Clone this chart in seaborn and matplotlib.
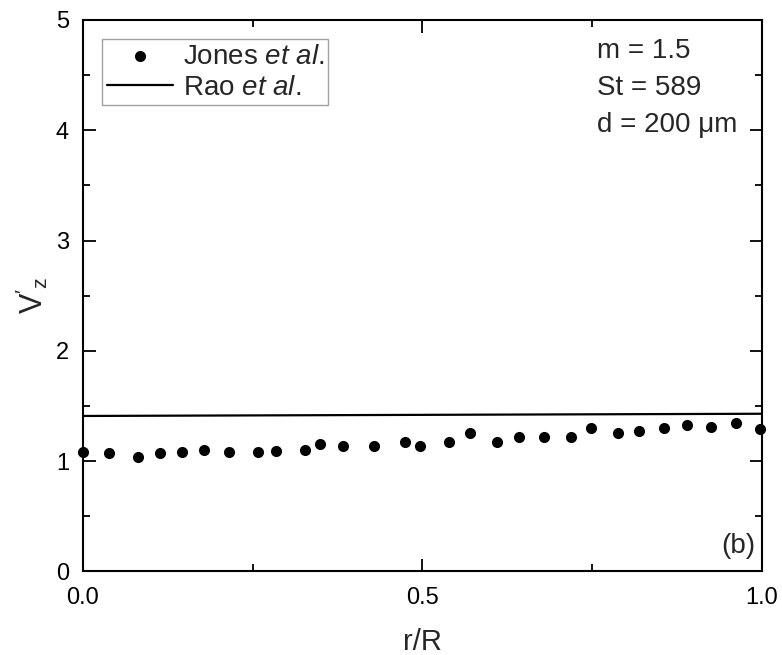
import matplotlib
matplotlib.use("Agg")
import matplotlib.pyplot as plt
import seaborn as sns
import pandas as pd
from matplotlib.ticker import MultipleLocator

# ---- data ----
jones_x = [0.0, 0.038, 0.081, 0.113, 0.146, 0.178, 0.215, 0.258, 0.284, 0.327,
           0.349, 0.383, 0.429, 0.474, 0.496, 0.539, 0.571, 0.610, 0.642, 0.679,
           0.719, 0.748, 0.788, 0.819, 0.856, 0.890, 0.925, 0.962, 0.997]
jones_y = [1.08, 1.07, 1.04, 1.07, 1.08, 1.10, 1.08, 1.08, 1.09, 1.10,
           1.16, 1.14, 1.14, 1.17, 1.14, 1.17, 1.26, 1.17, 1.22, 1.22,
           1.22, 1.30, 1.26, 1.27, 1.30, 1.33, 1.31, 1.35, 1.29]
rao_x = [0.0, 1.0]
rao_y = [1.41, 1.43]
x_ticks = [0.0, 0.5, 1.0]
y_ticks = [0, 1, 2, 3, 4, 5]

sns.set_theme(style="white")
plt.rcParams['font.family'] = ['Liberation Sans', 'DejaVu Sans']
plt.rcParams['mathtext.fontset'] = 'custom'
plt.rcParams['mathtext.rm'] = 'Liberation Sans'
plt.rcParams['mathtext.it'] = 'Liberation Sans:italic'
plt.rcParams['mathtext.bf'] = 'Liberation Sans:bold'

fig = plt.figure(figsize=(7.82, 6.55), dpi=100)
ax = fig.add_axes([0.106, 0.1275, 0.868, 0.842])

df_j = pd.DataFrame({"x": jones_x, "y": jones_y})
df_r = pd.DataFrame({"x": rao_x, "y": rao_y})

sns.scatterplot(data=df_j, x="x", y="y", ax=ax, color="black", s=64,
                edgecolor="black", linewidth=0, label=r"Jones $\mathit{et\ al.}$",
                clip_on=False, zorder=3)
sns.lineplot(data=df_r, x="x", y="y", ax=ax, color="black", linewidth=1.6,
             label=r"Rao $\mathit{et\ al.}$")

ax.set_xlim(0, 1.0)
ax.set_ylim(0, 5)
ax.set_xticks(x_ticks)
ax.set_xticklabels(["0.0", "0.5", "1.0"])
ax.set_yticks(y_ticks)
ax.xaxis.set_minor_locator(MultipleLocator(0.25))
ax.yaxis.set_minor_locator(MultipleLocator(0.5))
ax.tick_params(which="both", direction="in", top=True, right=True,
               bottom=True, left=True, colors="black", width=1.3)
ax.tick_params(which="major", length=9, labelsize=17)
ax.tick_params(axis="x", which="major", pad=11)
ax.tick_params(axis="y", which="major", pad=10)
ax.tick_params(which="minor", length=5)
for s in ax.spines.values():
    s.set_color("black")
    s.set_linewidth(1.5)

ax.set_xlabel("r/R", fontsize=21, labelpad=14)
ax.set_ylabel(r"$\mathregular{V'_z}$", fontsize=22, labelpad=4)

leg = ax.legend(loc="upper left", fontsize=20, frameon=True, fancybox=False,
                edgecolor="#888888", borderpad=0.15, handlelength=2.4,
                handletextpad=0.35, labelspacing=0.2, borderaxespad=0.7)
leg.get_frame().set_linewidth(1.0)

ax.text(0.757, 0.968, "m = 1.5\nSt = 589\nd = 200 μm", transform=ax.transAxes,
        fontsize=20, va="top", ha="left", linespacing=1.55)
ax.text(0.99, 0.022, "(b)", transform=ax.transAxes, fontsize=20,
        va="bottom", ha="right")

fig.savefig("out.png", dpi=100)
